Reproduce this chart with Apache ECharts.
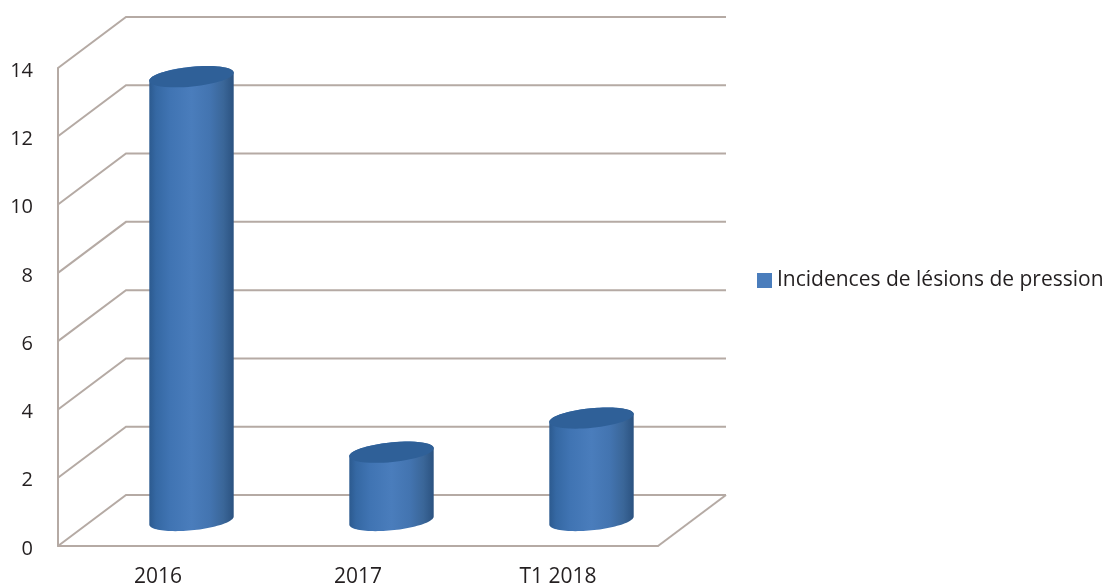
<!DOCTYPE html>
<html>
<head>
<meta charset="utf-8">
<style>html,body{margin:0;padding:0;background:#fff}#chart{width:1111px;height:587px}</style>
<script src="https://cdn.jsdelivr.net/npm/echarts@6/dist/echarts.min.js"></script>
</head>
<body>
<div id="chart"></div>
<script>
const categories = ['2016', '2017', 'T1 2018'];
const incidences = [13, 2, 3];
const yTicks = [0, 2, 4, 6, 8, 10, 12, 14];
const seriesName = 'Incidences de lésions de pression';

// Oblique projection of the 3D box
const DEPTH_X = 68, DEPTH_Y = -51;
const WALL = '#b5aaa4', TEXT = '#231f20', FONT = '"Open Sans", sans-serif';

function ellipsePoint(cx, cy, a, b, tilt, t) {
  const ex = a * Math.cos(t), ey = b * Math.sin(t);
  return [cx + ex * Math.cos(tilt) + ey * Math.sin(tilt),
          cy - ex * Math.sin(tilt) + ey * Math.cos(tilt)];
}

// Side wall diagonal and back wall line for one tick value; the floor also gets its right edge
function renderWall(params, api) {
  const slot = api.size([1, 0])[0];
  const front = api.coord([0, api.value(0)]);
  const left = front[0] - slot / 2;
  const right = left + slot * categories.length;
  const y = front[1];
  const style = { stroke: WALL, lineWidth: 2, fill: null };
  const children = [{
    type: 'polyline',
    shape: { points: [[left, y], [left + DEPTH_X, y + DEPTH_Y], [right + DEPTH_X, y + DEPTH_Y]] },
    style
  }];
  if (api.value(0) === 0) {
    children.push({ type: 'line', shape: { x1: right, y1: y, x2: right + DEPTH_X, y2: y + DEPTH_Y }, style });
  }
  return { type: 'group', children };
}

// Tilted cylinder standing halfway through the depth of the floor
function renderCylinder(params, api) {
  const base = api.coord([api.value(0), 0]);
  const top = api.coord([api.value(0), api.value(1)]);
  const cx = base[0] + 33.5, baseY = base[1] + DEPTH_Y / 2, topY = top[1] + DEPTH_Y / 2;
  const a = 42.4, b = 9.8, tilt = 0.1;
  // parameter where the ellipse reaches its horizontal extreme
  const t0 = Math.atan2(b * Math.sin(tilt), a * Math.cos(tilt));
  const N = 48;
  const outline = [];
  // lower rim at the base, from right to left, then upper rim at the top back to the right
  for (let i = 0; i <= N; i++) outline.push(ellipsePoint(cx, baseY, a, b, tilt, t0 + Math.PI * i / N));
  for (let i = 0; i <= N; i++) outline.push(ellipsePoint(cx, topY, a, b, tilt, t0 + Math.PI + Math.PI * i / N));
  const gradient = new echarts.graphic.LinearGradient(0, 0, 1, 0, [
    { offset: 0, color: '#2c5a8f' },
    { offset: 0.08, color: '#3568a3' },
    { offset: 0.25, color: '#4074b3' },
    { offset: 0.5, color: '#4a7dbc' },
    { offset: 0.72, color: '#4374b0' },
    { offset: 0.88, color: '#3a6698' },
    { offset: 1, color: '#2b5280' }
  ]);
  return {
    type: 'group',
    children: [
      { type: 'polygon', shape: { points: outline }, style: { fill: gradient } },
      { type: 'ellipse', x: cx, y: topY, rotation: tilt, shape: { cx: 0, cy: 0, rx: a, ry: b },
        style: { fill: '#2f6098' } }
    ]
  };
}

const chart = echarts.init(document.getElementById('chart'), null, { renderer: 'canvas' });
chart.setOption({
  animation: false,
  backgroundColor: '#fff',
  grid: { left: 58, top: 68, width: 600, height: 478, outerBoundsMode: 'none' },
  legend: {
    left: 752, top: 265, itemWidth: 15, itemHeight: 15, itemGap: 0,
    data: [{ name: seriesName, icon: 'rect', itemStyle: { color: '#4a7dbc' } }],
    textStyle: { fontFamily: FONT, fontSize: 21, color: TEXT }
  },
  xAxis: {
    type: 'category', data: categories,
    axisLine: { lineStyle: { color: WALL, width: 2 } },
    axisTick: { show: false },
    axisLabel: { margin: 21, fontFamily: FONT, fontSize: 21, color: TEXT }
  },
  yAxis: {
    type: 'value', min: 0, max: 14, interval: 2,
    axisLine: { show: true, lineStyle: { color: WALL, width: 2 } },
    axisTick: { show: false },
    splitLine: { show: false },
    axisLabel: { margin: 25, fontFamily: FONT, fontSize: 20, fontWeight: 500, color: TEXT, verticalAlign: 'top', lineHeight: 6 }
  },
  series: [
    {
      type: 'custom', name: 'walls', silent: true, z: 1, clip: false,
      coordinateSystem: 'cartesian2d',
      data: yTicks.map(v => [v]),
      encode: { y: 0 },
      renderItem: renderWall
    },
    {
      type: 'custom', name: seriesName, z: 3, clip: false,
      coordinateSystem: 'cartesian2d',
      itemStyle: { color: '#4a7dbc' },
      data: incidences.map((v, i) => [i, v]),
      encode: { x: 0, y: 1 },
      renderItem: renderCylinder
    }
  ]
});
</script>
</body>
</html>
